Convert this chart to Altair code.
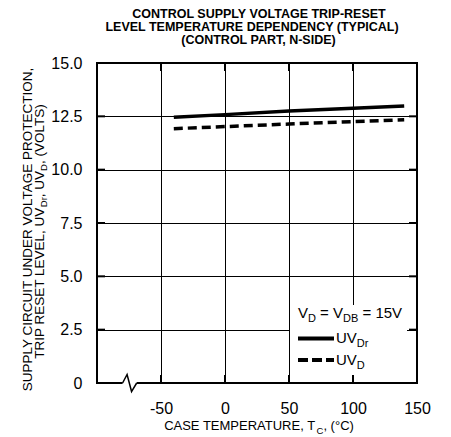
import altair as alt
import pandas as pd

# ---------------- data ----------------
T_DR = [-40, 0, 50, 100, 140]
V_DR = [12.46, 12.58, 12.75, 12.88, 12.99]
T_D = [-40, 0, 50, 100, 140]
V_D = [11.92, 12.02, 12.14, 12.25, 12.34]

X_TICKS = [-100, -50, 0, 50, 100, 150]
Y_TICKS = [0, 2.5, 5, 7.5, 10, 12.5, 15]
X_DOMAIN = [-100, 150]
Y_DOMAIN = [0, 15]
BREAK_T = [-80, -76.5, -73, -69]
BREAK_V = [0, 0.4, -0.4, 0]

TITLE_LINES = ["CONTROL SUPPLY VOLTAGE TRIP-RESET",
               "LEVEL TEMPERATURE DEPENDENCY (TYPICAL)",
               "(CONTROL PART, N-SIDE)"]
Y_TITLE_1 = "SUPPLY CIRCUIT UNDER VOLTAGE PROTECTION,"
Y_TITLE_2 = [("TRIP RESET LEVEL, UV", False), ("Dr", True), (", UV", False),
             ("D", True), (", (VOLTS)", False)]
X_TITLE = [("CASE TEMPERATURE, T", False), ("C", True), (", (°C)", False)]
LEGEND_HEAD = [("V", False), ("D", True), (" = V", False), ("DB", True), (" = 15V", False)]
LEGEND_DR = [("UV", False), ("Dr", True)]
LEGEND_D = [("UV", False), ("D", True)]

# ---------------- layout / style ----------------
W, H = 320, 320
FONT = "Liberation Sans"

ARIAL = {" ": 278, ",": 278, "(": 333, ")": 333, ".": 278, "-": 333, "=": 584,
         "°": 400, "A": 667, "B": 667, "C": 722, "D": 722, "E": 667, "F": 611,
         "G": 778, "H": 722, "I": 278, "L": 556, "M": 833, "N": 722, "O": 778,
         "P": 667, "R": 722, "S": 667, "T": 611, "U": 722, "V": 667, "Y": 667,
         "r": 333}


def text_width(s, fs):
    return sum(ARIAL.get(c, 556) for c in s) * fs / 1000.0


def text_chart(txt, px, py, fs, angle=0, align="left", bold=False):
    return alt.Chart(pd.DataFrame({"label": [txt]})).mark_text(
        align=align, baseline="alphabetic", fontSize=fs, font=FONT,
        angle=angle, color="black", fontWeight="bold" if bold else "normal"
    ).encode(x=alt.value(px), y=alt.value(py), text="label:N")


def run_pieces(pieces, x0, y0, size, sub_size, sub_shift, angle=0):
    charts = []
    pos = 0.0
    for s, is_sub in pieces:
        fs = sub_size if is_sub else size
        lead = len(s) - len(s.lstrip(" "))
        trail = len(s) - len(s.rstrip(" "))
        core = s.strip(" ")
        pos += lead * ARIAL[" "] * fs / 1000.0
        shift = sub_shift if is_sub else 0
        if angle == 0:
            px, py = x0 + pos, y0 + shift
        else:
            px, py = x0 + shift, y0 - pos
        charts.append(text_chart(core, px, py, fs, angle, "left"))
        pos += text_width(core, fs) + trail * ARIAL[" "] * fs / 1000.0
    return charts


def run_length(pieces, size, sub_size):
    return sum(text_width(s, sub_size if sub else size) for s, sub in pieces)


xs = alt.Scale(domain=X_DOMAIN, nice=False, zero=False)
ys = alt.Scale(domain=Y_DOMAIN, nice=False, zero=False)
xaxis = alt.Axis(values=X_TICKS, grid=True, gridColor="black", gridWidth=1,
                 domain=False, ticks=False, labelFontSize=16, labelFont=FONT,
                 labelColor="black", labelPadding=17, labelFlush=False,
                 labelOverlap=False, title=None,
                 labelExpr="datum.value == -100 ? '' : '' + datum.value")
yaxis = alt.Axis(values=Y_TICKS, grid=True, gridColor="black", gridWidth=1,
                 domain=False, ticks=False, labelFontSize=16, labelFont=FONT,
                 labelColor="black", labelPadding=15, labelFlush=False,
                 labelOverlap=False, title=None,
                 labelExpr="datum.value == 0 ? '0' : format(datum.value, '.1f')")
X = alt.X("T:Q", scale=xs, axis=xaxis)
Y = alt.Y("V:Q", scale=ys, axis=yaxis)

dummy = pd.DataFrame({"d": [0]})

# legend background (white box hiding the grid)
legend_box = alt.Chart(dummy).mark_rect(fill="white").encode(
    x=alt.value(193), x2=alt.value(310), y=alt.value(242), y2=alt.value(312))

line_dr = alt.Chart(pd.DataFrame({"T": T_DR, "V": V_DR})).mark_line(
    color="black", strokeWidth=3.5, strokeCap="butt").encode(x=X, y=Y)
line_d = alt.Chart(pd.DataFrame({"T": T_D, "V": V_D})).mark_line(
    color="black", strokeWidth=3.5, strokeCap="butt", strokeDash=[9, 5]).encode(x=X, y=Y)

# inner ticks
ytk = pd.DataFrame({"V": Y_TICKS[1:-1]})
xtk = pd.DataFrame({"T": X_TICKS[1:-1]})
ticks = [
    alt.Chart(ytk).mark_rule(color="black", strokeWidth=2).encode(
        y=Y, x=alt.value(0), x2=alt.value(8)),
    alt.Chart(ytk).mark_rule(color="black", strokeWidth=2).encode(
        y=Y, x=alt.value(W - 8), x2=alt.value(W)),
    alt.Chart(xtk).mark_rule(color="black", strokeWidth=2).encode(
        x=X, y=alt.value(0), y2=alt.value(8)),
    alt.Chart(xtk).mark_rule(color="black", strokeWidth=2).encode(
        x=X, y=alt.value(H - 8), y2=alt.value(H)),
]

frame = alt.Chart(dummy).mark_rect(fillOpacity=0, stroke="black", strokeWidth=2).encode(
    x=alt.value(0), x2=alt.value(W), y=alt.value(0), y2=alt.value(H))

cover = alt.Chart(pd.DataFrame({"T": [BREAK_T[0], BREAK_T[-1]], "V": [0, 0]})).mark_line(
    color="white", strokeWidth=4, strokeCap="butt").encode(x=X, y=Y)
zig = alt.Chart(pd.DataFrame({"T": BREAK_T, "V": BREAK_V})).mark_line(
    color="black", strokeWidth=1.5).encode(x=X, y=Y)

# legend samples
leg_solid = alt.Chart(dummy).mark_rule(color="black", strokeWidth=4, strokeCap="butt").encode(
    x=alt.value(201), x2=alt.value(237), y=alt.value(275.5))
leg_dash = alt.Chart(dummy).mark_rule(color="black", strokeWidth=4, strokeCap="butt",
                                      strokeDash=[10, 4]).encode(
    x=alt.value(201), x2=alt.value(237), y=alt.value(297))

texts = []
# title
for line, cx, by in zip(TITLE_LINES, [162, 155, 161.5], [-45, -32, -19]):
    texts.append(text_chart(line, cx, by, 12.5, 0, "center", bold=True))
# y title
texts.append(text_chart(Y_TITLE_1, -65, 166.5, 13.5, 270, "center"))
L2 = run_length(Y_TITLE_2, 13.5, 9.5)
texts += run_pieces(Y_TITLE_2, -53.5, 168 + L2 / 2, 13.5, 9.5, 3.5, angle=270)
# x title
LX = run_length(X_TITLE, 13, 9.5)
texts += run_pieces(X_TITLE, 162 - LX / 2, 367, 13, 9.5, 4)
# legend texts
texts += run_pieces(LEGEND_HEAD, 201, 254.5, 15, 11, 4)
texts += run_pieces(LEGEND_DR, 239, 280, 15, 11, 4)
texts += run_pieces(LEGEND_D, 239, 301.5, 15, 11, 4)

chart = alt.layer(
    line_dr, legend_box, line_d, *ticks, frame, cover, zig, leg_solid, leg_dash, *texts
).properties(
    width=W, height=H,
    autosize=alt.AutoSizeParams(type="none"),
    padding={"left": 89, "top": 55, "right": 26, "bottom": 52},
).configure_view(strokeWidth=0)

chart.save("out.html", embed_options={"renderer": "svg", "actions": False})
